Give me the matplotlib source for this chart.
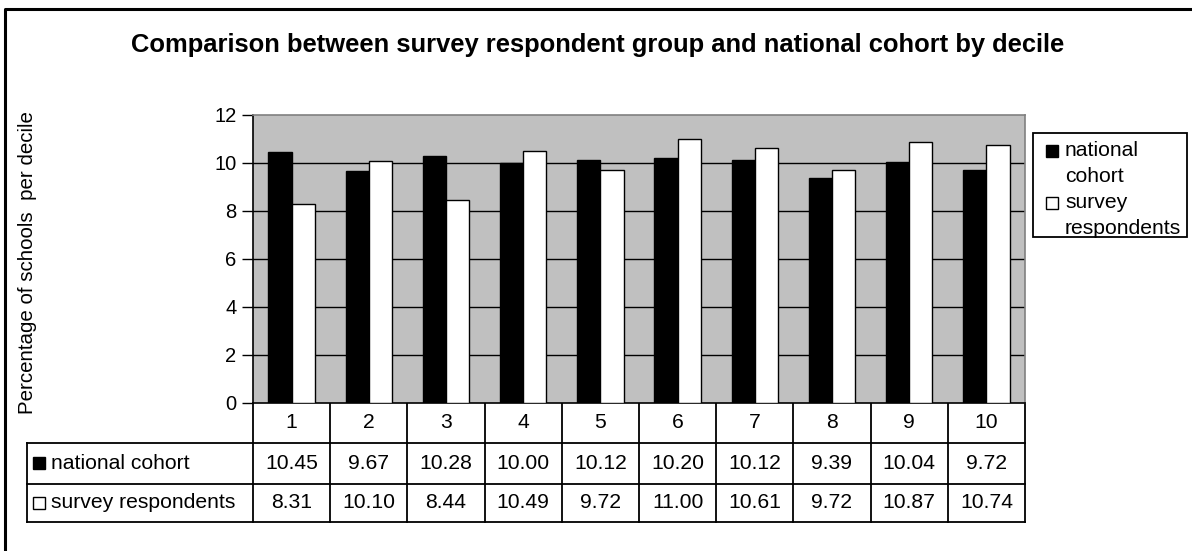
import numpy as np
import matplotlib
matplotlib.use("Agg")
import matplotlib.pyplot as plt
from matplotlib.patches import Rectangle

deciles = ["1", "2", "3", "4", "5", "6", "7", "8", "9", "10"]
national = [10.45, 9.67, 10.28, 10.00, 10.12, 10.20, 10.12, 9.39, 10.04, 9.72]
survey = [8.31, 10.10, 8.44, 10.49, 9.72, 11.00, 10.61, 9.72, 10.87, 10.74]
series_names = ["national cohort", "survey respondents"]
legend_labels = ["national\ncohort", "survey\nrespondents"]
yticks = [0, 2, 4, 6, 8, 10, 12]

# layout in pixels (figure is 1192 x 551)
W, H = 1192, 551
PL, PR, PT, PB = 253, 1025, 115, 403
ROW_Y = [403, 443, 484, 522]
TAB_L = 27
FS = 15.2

plt.rcParams["font.family"] = ["Liberation Sans", "DejaVu Sans"]
fig = plt.figure(figsize=(W / 100, H / 100), dpi=100)

# pixel-space overlay for frame, table and legend
ov = fig.add_axes([0, 0, 1, 1])
ov.set_xlim(0, W)
ov.set_ylim(H, 0)
ov.axis("off")

ax = fig.add_axes([PL / W, 1 - PB / H, (PR - PL) / W, (PB - PT) / H])
ax.set_facecolor("#c0c0c0")
x = np.arange(len(deciles))
bw = 0.3
ax.bar(x - bw / 2, national, bw, color="black", edgecolor="black", lw=1, zorder=3)
ax.bar(x + bw / 2, survey, bw, color="white", edgecolor="black", lw=1, zorder=3)
ax.set_xlim(-0.5, len(deciles) - 0.5)
ax.set_ylim(0, 12)
ax.set_yticks(yticks)
ax.set_xticks([])
for yv in yticks[1:-1]:
    ax.axhline(yv, color="black", lw=1, zorder=1)
ax.tick_params(axis="y", direction="out", length=8, width=1, labelsize=14.5, pad=4)
ax.spines["left"].set_color("black")
ax.spines["bottom"].set_color("black")
ax.spines["top"].set_color("#808080")
ax.spines["right"].set_color("#808080")
for s in ax.spines.values():
    s.set_linewidth(1.2)

# outer chart frame (only top/left visible in the crop)
ov.plot([5, 5, W + 10], [H + 10, 9, 9], color="black", lw=2.2, clip_on=False)

# title and y label
fig.text(598 / W, 1 - 45 / H, "Comparison between survey respondent group and national cohort by decile",
         ha="center", va="center", fontsize=18.4, fontweight="bold")
fig.text(28 / W, 1 - 263 / H, "Percentage of schools  per decile",
         ha="center", va="center", rotation=90, fontsize=14.8)

# data table under the axis
edges = np.linspace(PL, PR, len(deciles) + 1)
centers = (edges[:-1] + edges[1:]) / 2
lk = dict(color="black", lw=1.3)
for yv in ROW_Y[1:]:
    ov.plot([TAB_L, PR], [yv, yv], **lk)
ov.plot([TAB_L, TAB_L], [ROW_Y[1], ROW_Y[-1]], **lk)
for xe in edges:
    ov.plot([xe, xe], [ROW_Y[0], ROW_Y[-1]], **lk)

mid = [(ROW_Y[i] + ROW_Y[i + 1]) / 2 for i in range(3)]
for cx, lab in zip(centers, deciles):
    ov.text(cx, mid[0], lab, ha="center", va="center", fontsize=FS)
for r, (vals, name, fc) in enumerate(zip([national, survey], series_names, ["black", "white"])):
    ym = mid[r + 1]
    ov.add_patch(Rectangle((33, ym - 6.5), 12, 12, facecolor=fc, edgecolor="black", lw=1))
    ov.text(51, ym, name, ha="left", va="center", fontsize=FS)
    for cx, v in zip(centers, vals):
        ov.text(cx, ym, f"{v:.2f}", ha="center", va="center", fontsize=FS)

# legend
ov.add_patch(Rectangle((1033, 133), 154, 104, facecolor="white", edgecolor="black", lw=1.3))
for k, (lab, fc) in enumerate(zip(legend_labels, ["black", "white"])):
    y0 = 151 + k * 52
    ov.add_patch(Rectangle((1046, y0 - 6.5), 12, 12, facecolor=fc, edgecolor="black", lw=1))
    for j, line in enumerate(lab.split("\n")):
        ov.text(1065, y0 + j * 26, line, ha="left", va="center", fontsize=FS)

fig.savefig("out.png", dpi=100)
